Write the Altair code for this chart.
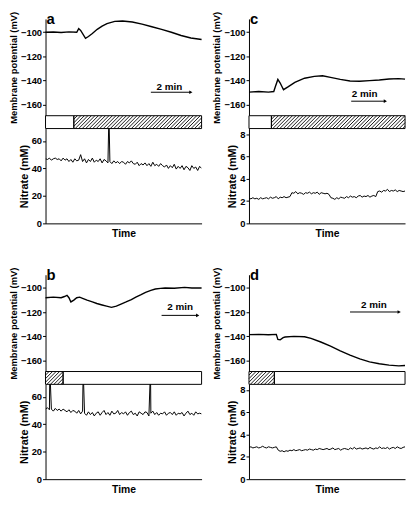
import altair as alt
import pandas as pd

# ---------------- data (time in min, membrane potential in mV, nitrate in mM) ----------------
mem_a_t = [0, 0.4, 0.8, 1.2, 1.6, 1.7, 1.8, 2.05, 2.2, 2.4, 2.65, 2.9, 3.15, 3.55, 3.95,
           4.45, 4.95, 5.45, 5.95, 6.45, 6.95, 7.45, 8.0]
mem_a_v = [-100, -99.8, -100.2, -99.7, -100, -97, -98.5, -105, -103.5, -101, -97.6, -95, -92.8,
           -91, -90.7, -91.5, -93.3, -95.5, -97.6, -100, -102.7, -104.8, -106]

mem_b_t = [0, 0.4, 0.8, 0.97, 1.1, 1.2, 1.3, 1.45, 1.6, 1.75, 1.9, 2.13, 2.4, 2.63, 2.9, 3.13,
           3.38, 3.63, 3.9, 4.13, 4.4, 4.63, 4.9, 5.13, 5.4, 5.63, 5.9, 6.13, 6.6, 7.13, 7.5, 8.0]
mem_b_v = [-108, -107.5, -108, -107, -106, -108, -111.5, -110, -108, -107.5, -108.5, -110,
           -111.5, -112.8, -114, -115, -116, -115, -113, -111.5, -109.5, -107.5, -105.5, -103.5,
           -102, -100.8, -100.3, -100, -100.2, -99.5, -100, -100]

mem_c_t = [0, 0.5, 1.0, 1.27, 1.35, 1.48, 1.6, 1.77, 2.02, 2.35, 2.85, 3.35, 3.77, 4.18, 4.68,
           5.18, 5.68, 6.18, 6.68, 7.18, 7.68, 8.0]
mem_c_v = [-149.5, -149, -149.5, -149, -145, -139, -142, -147.5, -145, -141.5, -138, -136.5,
           -136, -137.3, -139, -140.3, -140.5, -140, -139.5, -138.7, -138.3, -138.8]

mem_d_t = [0, 0.5, 1.0, 1.4, 1.48, 1.6, 1.75, 1.85, 2.3, 2.85, 3.18, 3.68, 4.18, 4.68, 5.18,
           5.68, 6.18, 6.68, 7.18, 7.68, 8.0]
mem_d_v = [-138.5, -138.3, -138.6, -138.3, -142.5, -142.8, -141, -140.5, -140, -140.3, -141.6,
           -144.6, -148, -151.9, -155.4, -158.6, -161, -162.6, -163.7, -164.3, -164]

# nitrate traces sampled every 0.1 min (0 .. 8 min)
nit_t = [round(i * 0.1, 1) for i in range(81)]
nit_a = [47, 46.5, 47.5, 46, 47, 47.5, 46.5,
         47, 45.5, 47.5, 46, 47, 45, 46.5, 44.5, 47, 45.5, 46,
         50,
         45, 47, 44, 46.5, 45, 47.5, 44.5, 46, 45, 47, 44, 46.5, 45.5, 44,
         45, 43.5, 45.5, 44, 45, 43.5, 45, 44.5, 43, 45, 44, 45.5, 43.5,
         43, 44.5, 42, 43.5, 42.5, 44, 42, 43.5, 41.5, 44.5, 42, 43, 41.5, 43.5, 42,
         41, 42.5, 40, 42, 40.5, 43, 39.5, 41.5, 40, 42, 39, 41.5, 40.5, 38.5, 42, 40, 41,
         38.5, 41.5, 40]
nit_b = [51, 52, 50.5, 51, 49.5, 51.5, 50, 51, 49.5, 51,
         50, 49, 50.5, 48.5, 50, 49.5, 48, 50, 47.5, 49.5,
         48, 46.5, 49, 47, 48.5, 46, 48, 49, 46.5, 48.5,
         50, 47, 48.5, 46.5, 49.5, 47.5, 48, 50, 47, 48.5,
         47.5, 49, 46.5, 48.5, 49.5, 47, 48, 46, 49, 48,
         47, 49, 48.5, 46, 48, 49.5, 47, 48.5, 46.5, 48,
         47.5, 49, 46.5, 48, 48.5, 47, 49, 46.5, 48, 47.5,
         48.5, 46, 48, 49.5, 47, 48, 46.5, 49, 47.5, 48, 47.5]
nit_c = [2.25, 2.2, 2.3, 2.2, 2.25, 2.15, 2.3, 2.2, 2.25, 2.3,
         2.2, 2.35, 2.25, 2.3, 2.4, 2.2, 2.35, 2.3, 2.4, 2.3,
         2.35, 2.4, 2.75, 2.7, 2.85, 2.65, 2.75, 2.7, 2.6, 2.75,
         2.7, 2.8, 2.65, 2.75, 2.7, 2.8, 2.6, 2.75, 2.7, 2.65,
         2.7, 2.6, 2.3, 2.25, 2.15, 2.3, 2.2, 2.35, 2.3, 2.25,
         2.4, 2.3, 2.45, 2.35, 2.4, 2.3, 2.45, 2.5, 2.35, 2.45,
         2.4, 2.5, 2.35, 2.45, 2.5, 2.4, 2.85, 2.9, 2.8, 2.95,
         2.9, 3.05, 2.85, 2.95, 2.9, 3.0, 2.85, 2.95, 2.9, 2.85, 2.9]
nit_d = [2.85, 2.9, 2.8, 2.85, 2.9, 2.8, 2.85, 2.95, 2.85, 2.8,
         2.9, 2.85, 2.8, 2.85, 2.9, 2.6, 2.5, 2.55, 2.45, 2.55,
         2.5, 2.6, 2.55, 2.65, 2.55, 2.6, 2.65, 2.55, 2.6, 2.65,
         2.6, 2.7, 2.65, 2.6, 2.7, 2.65, 2.75, 2.7, 2.65, 2.7,
         2.75, 2.65, 2.7, 2.8, 2.65, 2.7, 2.75, 2.6, 2.7, 2.75,
         2.7, 2.65, 2.8, 2.7, 2.85, 2.7, 2.75, 2.8, 2.7, 2.75,
         2.8, 2.7, 2.85, 2.75, 2.7, 2.8, 2.75, 2.9, 2.75, 2.8,
         2.75, 2.85, 2.7, 2.8, 2.85, 2.75, 2.9, 2.8, 2.75, 2.85, 2.9]

# off-scale spikes in the nitrate traces (time, value)
spikes_a = [(3.25, 80)]
spikes_b = [(0.22, 80), (1.93, 80), (5.38, 80)]

# treatment bars: (start, end, hatched?)
bar_a = [(0, 1.45, False), (1.45, 8, True)]
bar_b = [(0, 0.9, True), (0.9, 8, False)]
bar_c = [(0, 1.15, False), (1.15, 8, True)]
bar_d = [(0, 1.3, True), (1.3, 8, False)]

# "2 min" scale arrows: (x start, x end, y, text x, text y)
arrow_a = (5.4, 7.45, -149.6, 6.35, -145.0)
arrow_b = (5.95, 7.8, -122.6, 6.9, -116.0)
arrow_c = (5.24, 6.99, -157.0, 5.93, -151.0)
arrow_d = (5.18, 7.7, -119.8, 6.4, -114.0)

mem_ticks = [-100, -120, -140, -160]
mem_domain = [-169, -89]

FONT = "Liberation Sans"
XS = alt.Scale(domain=[0, 8], nice=False, zero=False)
W = 158
H_MEM = 98
H_BAR = 13
H_NIT = 96


def hatch_lines(t0, t1, spacing=0.18, slant=0.65):
    rows = []
    x = t0 - slant
    while x < t1:
        xb, yb, xt, yt = x, 0.0, x + slant, 1.0
        if xb < t0:
            yb = (t0 - x) / slant
            xb = t0
        if xt > t1:
            yt = (t1 - x) / slant
            xt = t1
        if xb < xt:
            rows.append({"x0": xb, "x1": xt, "y0": yb, "y1": yt})
        x += spacing
    return rows


def mem_chart(letter, mt, mv, arrow):
    # one combined table so all marks share a single y field / axis
    rows = [{"kind": "trace", "t": t, "v": v} for t, v in zip(mt, mv)]
    rows.append({"kind": "arrow", "t": arrow[0], "t2": arrow[1], "v": arrow[2]})
    rows.append({"kind": "head", "t": arrow[1], "v": arrow[2]})
    rows.append({"kind": "label", "t": arrow[3], "v": arrow[4], "lab": "2 min"})
    rows.append({"kind": "letter", "t": 0, "v": mem_domain[1], "lab": letter})
    df = pd.DataFrame(rows)
    ymem = alt.Scale(domain=mem_domain, nice=False, zero=False)
    yax = alt.Axis(values=mem_ticks, title="Membrane potential (mV)", titleFontSize=9.5,
                   labelOverlap=False)
    base = alt.Chart(df).encode(
        x=alt.X("t:Q", scale=XS, axis=None),
        y=alt.Y("v:Q", scale=ymem, axis=yax),
    )
    mem_line = base.mark_line(color="black", strokeWidth=1.4).transform_filter(
        alt.datum.kind == "trace")
    a_rule = base.mark_rule(color="black", strokeWidth=1).encode(x2="t2:Q").transform_filter(
        alt.datum.kind == "arrow")
    a_head = base.mark_point(shape="triangle-right", filled=True, color="black",
                             size=14, opacity=1).transform_filter(alt.datum.kind == "head")
    a_text = base.mark_text(font=FONT, fontSize=10, fontWeight="bold", color="black",
                            baseline="middle").encode(text="lab:N").transform_filter(
        alt.datum.kind == "label")
    letter_txt = base.mark_text(font=FONT, fontSize=15, fontWeight="bold", color="black",
                                baseline="bottom", align="left", dx=1, dy=8).encode(
        text="lab:N").transform_filter(alt.datum.kind == "letter")
    return alt.layer(mem_line, a_rule, a_head, a_text, letter_txt).properties(
        width=W, height=H_MEM)


def bar_chart(bar):
    seg_df = pd.DataFrame([{"a": s, "b": e, "y0": 0, "y1": 1} for s, e, h in bar])
    hrows = []
    for s, e, h in bar:
        if h:
            hrows += hatch_lines(s, e)
    h_df = pd.DataFrame(hrows)
    ybar = alt.Scale(domain=[0, 1], nice=False, zero=False)
    fill = alt.Chart(seg_df).mark_rect(color="white").encode(
        x=alt.X("a:Q", scale=XS, axis=None), x2="b:Q",
        y=alt.Y("y0:Q", scale=ybar, axis=None), y2="y1:Q")
    hatch = alt.Chart(h_df).mark_rule(color="black", strokeWidth=0.9).encode(
        x=alt.X("x0:Q", scale=XS, axis=None), x2="x1:Q",
        y=alt.Y("y0:Q", scale=ybar, axis=None), y2="y1:Q")
    outline = alt.Chart(seg_df).mark_rect(fillOpacity=0, stroke="black", strokeWidth=1).encode(
        x=alt.X("a:Q", scale=XS, axis=None), x2="b:Q",
        y=alt.Y("y0:Q", scale=ybar, axis=None), y2="y1:Q")
    return alt.layer(fill, hatch, outline).properties(width=W, height=H_BAR)


def nit_chart(nv, spikes, nit_dom, nit_ticks):
    pts = list(zip(nit_t, nv)) + list(spikes)
    pts.sort(key=lambda p: p[0])
    ndf = pd.DataFrame(pts, columns=["t", "v"])
    return alt.Chart(ndf).mark_line(color="black", strokeWidth=1, clip=True).encode(
        x=alt.X("t:Q", scale=XS,
                axis=alt.Axis(title="Time", ticks=False, labels=False, titlePadding=5,
                              titleFontSize=10.5)),
        y=alt.Y("v:Q", scale=alt.Scale(domain=nit_dom, nice=False, zero=False),
                axis=alt.Axis(values=nit_ticks, title="Nitrate (mM)", titleFontSize=11,
                              labelOverlap=False)),
    ).properties(width=W, height=H_NIT)


def spacer(h):
    return alt.Chart(pd.DataFrame({"t": [0]})).mark_point(opacity=0).encode(
        x=alt.X("t:Q", scale=XS, axis=None)).properties(width=W, height=h)


ND_BIG = [0, 69]
NT_BIG = [0, 20, 40, 60]
ND_SMALL = [0, 8.5]
NT_SMALL = [0, 2, 4, 6, 8]

cells = [
    mem_chart("a", mem_a_t, mem_a_v, arrow_a), mem_chart("c", mem_c_t, mem_c_v, arrow_c),
    bar_chart(bar_a), bar_chart(bar_c),
    nit_chart(nit_a, spikes_a, ND_BIG, NT_BIG), nit_chart(nit_c, [], ND_SMALL, NT_SMALL),
    spacer(52), spacer(52),
    mem_chart("b", mem_b_t, mem_b_v, arrow_b), mem_chart("d", mem_d_t, mem_d_v, arrow_d),
    bar_chart(bar_b), bar_chart(bar_d),
    nit_chart(nit_b, spikes_b, ND_BIG, NT_BIG), nit_chart(nit_d, [], ND_SMALL, NT_SMALL),
]

chart = alt.concat(*cells, columns=2, spacing={"row": 0, "column": 48}, bounds="flush").properties(
    padding=0
).configure_view(
    stroke=None
).configure_axis(
    domainColor="black", domainWidth=1, tickColor="black", tickSize=3, tickWidth=1,
    labelFont=FONT, labelFontSize=9.5, labelFontWeight="bold", labelColor="black",
    labelPadding=1, titleFont=FONT, titleFontSize=10.5, titleFontWeight="bold",
    titleColor="black", titlePadding=2, grid=False, labelOverlap=False,
)

chart.save("out.html", embed_options={"renderer": "svg", "actions": False})
